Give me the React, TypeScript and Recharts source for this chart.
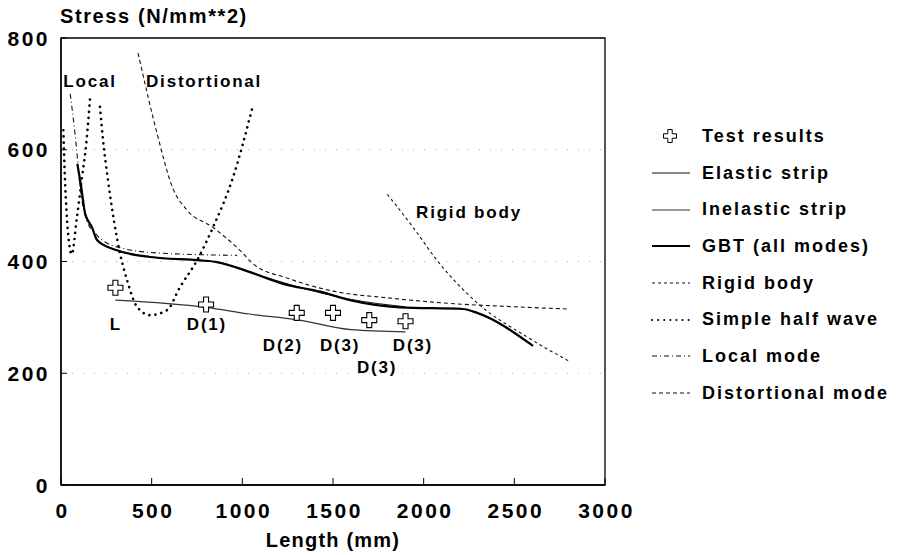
import React from 'react'
import { ComposedChart, Line, Scatter, XAxis, YAxis, CartesianGrid, ReferenceArea } from 'recharts'

const lengthTicks = [0, 500, 1000, 1500, 2000, 2500, 3000]
const stressTicks = [0, 200, 400, 600, 800]

const testLengths = [300, 800, 1300, 1500, 1700, 1900]
const testStress = [353, 323, 308, 308, 295, 293]

const elasticLengths = [100, 130, 170, 200, 300, 500, 840, 1060, 1300, 1600, 1900]
const elasticStress = [548, 492, 462, 440, 421, 408, 400, 379, 355, 332, 319]

const inelasticLengths = [300, 800, 1040, 1300, 1600, 1900]
const inelasticStress = [331, 318, 306, 296, 278, 274]

const gbtLengths = [90, 114, 132, 171, 199, 309, 491, 767, 860, 1042, 1225, 1430, 1594, 1870, 2217, 2295, 2603]
const gbtStress = [575, 528, 487, 461, 438, 420, 408, 402, 399, 381, 360, 346, 331, 318, 315, 308, 249]

const rigidLengths = [1800, 1942, 2074, 2295, 2570, 2800]
const rigidStress = [520, 461, 402, 326, 265, 222]

const halfWaveLengths = [13, 22, 31, 45, 59, 86, 114, 141, 160, 190, 215, 232, 259, 325, 364, 419, 491, 585, 656, 750, 838, 949, 1059]
const halfWaveStress = [635, 546, 487, 432, 413, 474, 546, 617, 692, null, 677, 617, 546, 415, 367, 319, 304, 313, 354, 402, 461, 551, 680]

const localLengths = [51, 77, 114, 141, 188, 309, 546, 971]
const localStress = [700, 630, 512, 474, 451, 426, 415, 411]

const distLengths = [425, 529, 618, 695, 838, 987, 1059, 1250, 1500, 1800, 2146, 2500, 2796]
const distStress = [773, 630, 530, 492, 461, 420, 396, 370, 347, 335, 325, 319, 315]

const noteLengths = [160, 789, 2250, 303, 805, 1224, 1539, 1743, 1941]
const noteStress = [722, 722, 487, 288, 288, 250, 250, 211, 250]
const noteTexts = ['Local', 'Distortional', 'Rigid body', 'L', 'D(1)', 'D(2)', 'D(3)', 'D(3)', 'D(3)']

const legendLabels = ['Test results', 'Elastic strip', 'Inelastic strip', 'GBT (all modes)', 'Rigid body', 'Simple half wave', 'Local mode', 'Distortional mode']

const toPoints = (xs: number[], ys: (number | null)[]) => xs.map((x, i) => ({ x, y: ys[i] }))

const FONT = '"Liberation Sans", Arial, Helvetica, sans-serif'

const styles = {
  elastic: { stroke: '#111', strokeWidth: 1 },
  inelastic: { stroke: '#333', strokeWidth: 1.2 },
  gbt: { stroke: '#000', strokeWidth: 2.2 },
  rigid: { stroke: '#111', strokeWidth: 1.1, strokeDasharray: '3 3' },
  halfWave: { stroke: '#000', strokeWidth: 2.6, strokeDasharray: '0.1 6', strokeLinecap: 'round' as const },
  local: { stroke: '#111', strokeWidth: 1.1, strokeDasharray: '5 3 1 3' },
  dist: { stroke: '#111', strokeWidth: 1.1, strokeDasharray: '4 3' },
}

const crossPath = (cx: number, cy: number, s = 7.5, a = 2.5) =>
  `M${cx - a},${cy - s} H${cx + a} V${cy - a} H${cx + s} V${cy + a} H${cx + a} V${cy + s} H${cx - a} V${cy + a} H${cx - s} V${cy - a} H${cx - a} Z`

const CrossShape = (props: any) => {
  const { cx, cy } = props
  return <path d={crossPath(cx, cy)} fill="#fff" stroke="#000" strokeWidth={1.1} />
}

const NoteShape = (props: any) => {
  const { cx, cy, payload } = props
  return (
    <text x={cx} y={cy} textAnchor="middle" dominantBaseline="central" fontFamily={FONT} fontWeight="bold" fontSize={17} letterSpacing={1.8} fill="#000">
      {payload.text}
    </text>
  )
}

const XTick = (props: any) => {
  const { x, y, payload } = props
  return (
    <g>
      <line x1={x} x2={x} y1={y} y2={y - 7} stroke="#000" strokeWidth={1} />
      <text x={x + 1.5} y={y + 25} textAnchor="middle" dominantBaseline="central" fontFamily={FONT} fontWeight="bold" fontSize={21} letterSpacing={2.5} fill="#000">
        {payload.value}
      </text>
    </g>
  )
}

const YTick = (props: any) => {
  const { x, y, payload } = props
  return (
    <g>
      <line x1={x} x2={x + 6} y1={y} y2={y} stroke="#000" strokeWidth={1} />
      <text x={x - 11} y={y} textAnchor="end" dominantBaseline="central" fontFamily={FONT} fontWeight="bold" fontSize={21} letterSpacing={2.5} fill="#000">
        {payload.value}
      </text>
    </g>
  )
}

const legendSymbols = [null, styles.elastic, styles.inelastic, styles.gbt, styles.rigid, styles.halfWave, styles.local, styles.dist]

const ChartLegend = () => (
  <div style={{ position: 'absolute', left: 650, top: 118 }}>
    {legendLabels.map((label, i) => {
      const st = legendSymbols[i]
      return (
        <div key={label} style={{ display: 'flex', alignItems: 'center', height: 36.7 }}>
          <svg width={52} height={20}>
            {st ? (
              <line x1={2} x2={40} y1={10} y2={10} {...st} strokeWidth={Math.min(st.strokeWidth, 2)} />
            ) : (
              <path d={crossPath(20, 10, 6.5, 2.2)} fill="#fff" stroke="#000" strokeWidth={1} />
            )}
          </svg>
          <span style={{ fontFamily: FONT, fontWeight: 'bold', fontSize: 18, letterSpacing: 2, color: '#000' }}>{label}</span>
        </div>
      )
    })}
  </div>
)

export default function App() {
  const tests = toPoints(testLengths, testStress)
  const notes = noteLengths.map((x, i) => ({ x, y: noteStress[i], text: noteTexts[i] }))
  return (
    <div style={{ position: 'absolute', left: 0, top: 0, width: 901, height: 555, background: '#fff' }}>
      <ComposedChart width={901} height={555} margin={{ top: 38, right: 296, bottom: 0, left: 0 }}>
        <CartesianGrid vertical={false} stroke="#b0b0b0" strokeDasharray="1 10" />
        <ReferenceArea x1={0} x2={3000} y1={0} y2={800} fill="none" stroke="#000" strokeWidth={1.3} />
        <XAxis
          dataKey="x"
          type="number"
          domain={[0, 3000]}
          ticks={lengthTicks}
          height={70}
          tickSize={0}
          tickMargin={0}
          tickLine={false}
          tick={<XTick />}
          axisLine={{ stroke: '#000', strokeWidth: 1.3 }}
          label={{ value: 'Length (mm)', position: 'insideBottom', offset: 8, style: { fontFamily: FONT, fontWeight: 'bold', fontSize: 20, letterSpacing: 1.2, fill: '#000' } }}
        />
        <YAxis
          type="number"
          domain={[0, 800]}
          ticks={stressTicks}
          width={61}
          tickSize={0}
          tickMargin={0}
          tickLine={false}
          tick={<YTick />}
          axisLine={{ stroke: '#000', strokeWidth: 1.3 }}
          label={{
            content: (p: any) => (
              <text x={p.viewBox.x + p.viewBox.width - 1} y={p.viewBox.y - 15} fontFamily={FONT} fontWeight="bold" fontSize={20} letterSpacing={1.6} fill="#000">
                Stress (N/mm**2)
              </text>
            ),
          }}
        />
        <Line data={toPoints(distLengths, distStress)} dataKey="y" type="monotone" dot={false} {...styles.dist} isAnimationActive={false} />
        <Line data={toPoints(localLengths, localStress)} dataKey="y" type="monotone" dot={false} {...styles.local} isAnimationActive={false} />
        <Line data={toPoints(rigidLengths, rigidStress)} dataKey="y" type="monotone" dot={false} {...styles.rigid} isAnimationActive={false} />
        <Line data={toPoints(halfWaveLengths, halfWaveStress)} dataKey="y" type="monotone" dot={false} {...styles.halfWave} isAnimationActive={false} />
        <Line data={toPoints(elasticLengths, elasticStress)} dataKey="y" type="monotone" dot={false} {...styles.elastic} isAnimationActive={false} />
        <Line data={toPoints(inelasticLengths, inelasticStress)} dataKey="y" type="monotone" dot={false} {...styles.inelastic} isAnimationActive={false} />
        <Line data={toPoints(gbtLengths, gbtStress)} dataKey="y" type="monotone" dot={false} {...styles.gbt} isAnimationActive={false} />
        <Scatter data={tests} dataKey="y" shape={CrossShape} isAnimationActive={false} />
        <Scatter data={notes} dataKey="y" shape={NoteShape} isAnimationActive={false} />
      </ComposedChart>
      <ChartLegend />
    </div>
  )
}
